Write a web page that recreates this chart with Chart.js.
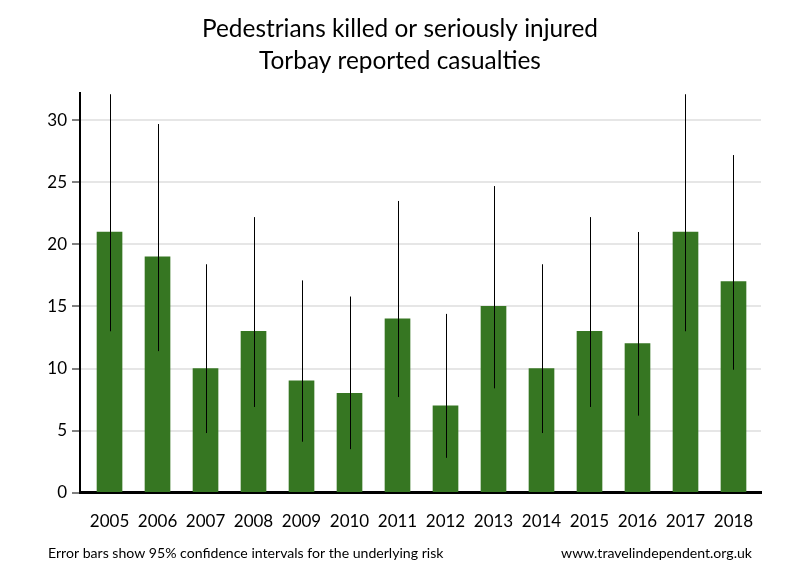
<!DOCTYPE html>
<html>
<head>
<meta charset="utf-8">
<script src="https://cdn.jsdelivr.net/npm/chart.js@4/dist/chart.umd.min.js"></script>
<style>
  html, body { margin: 0; padding: 0; background: #fff; }
  canvas { display: block; }
</style>
</head>
<body>
<canvas id="c" width="800" height="580"></canvas>
<script>
const years = ["2005","2006","2007","2008","2009","2010","2011","2012","2013","2014","2015","2016","2017","2018"];
const casualties = [21, 19, 10, 13, 9, 8, 14, 7, 15, 10, 13, 12, 21, 17];
const ciLower = [13.0, 11.4, 4.8, 6.9, 4.1, 3.5, 7.7, 2.8, 8.4, 4.8, 6.9, 6.2, 13.0, 9.9];
const ciUpper = [32.1, 29.7, 18.4, 22.2, 17.1, 15.8, 23.5, 14.4, 24.7, 18.4, 22.2, 21.0, 32.1, 27.2];
const yTicks = [0, 5, 10, 15, 20, 25, 30];
const titleLines = ["Pedestrians killed or seriously injured", "Torbay reported casualties"];
const footLeft = "Error bars show 95% confidence intervals for the underlying risk";
const footRight = "www.travelindependent.org.uk";

const FONT = "Lato, 'Noto Sans', sans-serif";

const points = casualties.map((v, i) => ({ x: i, y: v }));

const errorBars = {
  id: 'errorBars',
  afterDatasetsDraw(chart) {
    const { ctx, chartArea, scales } = chart;
    ctx.save();
    ctx.beginPath();
    ctx.rect(chartArea.left, chartArea.top, chartArea.right - chartArea.left, chartArea.bottom - chartArea.top);
    ctx.clip();
    ctx.strokeStyle = '#000';
    ctx.lineWidth = 1;
    for (let i = 0; i < years.length; i++) {
      const x = Math.round(scales.x.getPixelForValue(i)) + 0.5;
      const y1 = scales.y.getPixelForValue(ciLower[i]);
      const y2 = scales.y.getPixelForValue(ciUpper[i]);
      ctx.beginPath();
      ctx.moveTo(x, y1);
      ctx.lineTo(x, y2);
      ctx.stroke();
    }
    ctx.restore();
  }
};

const texts = {
  id: 'texts',
  afterDraw(chart) {
    const { ctx } = chart;
    ctx.save();
    ctx.fillStyle = '#000';
    ctx.textBaseline = 'middle';
    ctx.font = "24.4px " + FONT;
    ctx.textAlign = 'center';
    ctx.fillText(titleLines[0], 400, 29);
    ctx.fillText(titleLines[1], 400, 61);
    ctx.font = "14.1px " + FONT;
    ctx.textAlign = 'left';
    ctx.fillText(footLeft, 48, 553);
    ctx.textAlign = 'right';
    ctx.fillText(footRight, 752, 553);
    ctx.restore();
  }
};

new Chart(document.getElementById('c'), {
  type: 'bar',
  data: {
    datasets: [{
      data: points,
      backgroundColor: '#367622',
      borderWidth: 0,
      barThickness: 25
    }]
  },
  options: {
    responsive: false,
    animation: false,
    layout: { padding: { left: 0, right: 39, top: 93, bottom: 29 } },
    plugins: {
      legend: { display: false },
      tooltip: { enabled: false },
      title: { display: false }
    },
    scales: {
      x: {
        type: 'linear',
        offset: false,
        min: -0.615,
        max: 13.573,
        afterBuildTicks(scale) {
          scale.ticks = years.map((_, i) => ({ value: i }));
        },
        ticks: {
          autoSkip: false,
          maxRotation: 0,
          padding: 19,
          color: '#000',
          font: { family: FONT, size: 17 },
          callback: (v) => years[v]
        },
        grid: { display: true, drawOnChartArea: false, drawTicks: false },
        border: { display: true, color: '#000', width: 3 }
      },
      y: {
        min: 0,
        max: 32.2,
        afterBuildTicks(scale) {
          scale.ticks = yTicks.map(v => ({ value: v }));
        },
        afterFit(scale) { scale.width = 80; },
        ticks: {
          padding: 5,
          color: '#000',
          font: { family: FONT, size: 17 }
        },
        grid: {
          color: (ctx) => (ctx.tick && ctx.tick.value === 0) ? 'rgba(0,0,0,0)' : '#e6e6e6',
          lineWidth: 2,
          tickColor: '#000',
          tickLength: 8,
          tickWidth: 1
        },
        border: { display: true, color: '#000', width: 2 }
      }
    }
  },
  plugins: [errorBars, texts]
});
</script>
</body>
</html>
